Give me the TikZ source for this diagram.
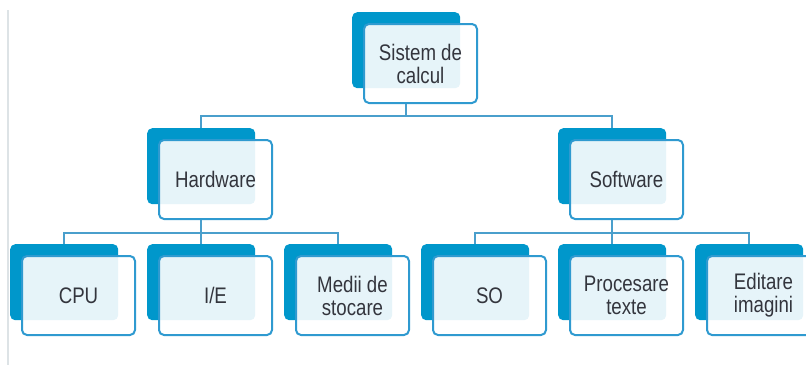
\documentclass[tikz,border=0pt]{standalone}
\usepackage{fontspec}
\usepackage{tikz}
\usetikzlibrary{positioning}
\usepackage{xcolor}

\newfontfamily\boxfont{Liberation Sans}[FakeStretch=0.83]
\definecolor{deepblue}{HTML}{0097CB}
\definecolor{edgeblue}{HTML}{2F9AD0}
\definecolor{linkblue}{HTML}{4A9FCC}
\definecolor{txtgray}{HTML}{33353D}
\definecolor{railgray}{HTML}{DDE3E6}

\begin{document}
\begin{tikzpicture}[x=1pt, y=-1pt,
    back/.style={rectangle, rounded corners=5pt, fill=deepblue, minimum width=108pt, minimum height=76pt, inner sep=0pt, anchor=north west},
    front/.style={rectangle, rounded corners=5pt, draw=edgeblue, line width=2pt, fill=white, fill opacity=0.9, text opacity=1, minimum width=113pt, minimum height=79pt, inner sep=0pt, anchor=north west, align=center, text=txtgray, font=\boxfont\fontsize{22.5}{23}\selectfont},
    link/.style={draw=linkblue, line width=2.4pt}]
    \useasboundingbox (0,0) rectangle (806,367);

    % Left rule
    \draw[railgray, line width=2pt] (8,10) -- (8,365);

    % Root
    \node[back] (root-b) at (352,12) {};
    \node[front] (root) at ([shift={(11,11)}]root-b.north west) {Sistem de\\calcul};

    % Second level
    \node[back] (hw-b) at (147,128) {};
    \node[front] (hw) at ([shift={(11,11)}]hw-b.north west) {Hardware};
    \node[back] (sw-b) at (558,128) {};
    \node[front] (sw) at ([shift={(11,11)}]sw-b.north west) {Software};

    % Third level
    \node[back] (cpu-b) at (10,244) {};
    \node[front] (cpu) at ([shift={(11,11)}]cpu-b.north west) {CPU};
    \node[back] (ie-b) at (147,244) {};
    \node[front] (ie) at ([shift={(11,11)}]ie-b.north west) {I/E};
    \node[back] (med-b) at (284,244) {};
    \node[front] (med) at ([shift={(11,11)}]med-b.north west) {Medii de\\stocare};
    \node[back] (so-b) at (421,244) {};
    \node[front] (so) at ([shift={(11,11)}]so-b.north west) {SO};
    \node[back] (proc-b) at (558,244) {};
    \node[front] (proc) at ([shift={(11,11)}]proc-b.north west) {Procesare\\texte};
    \node[back] (edit-b) at (695,244) {};
    \node[front] (edit) at ([shift={(11,11)}]edit-b.north west) {Editare\\imagini};

    % Connectors
    \draw[link] (root-b.south |- root.south) -- ++(0,12) -| (hw-b.north);
    \draw[link] (root-b.south |- root.south) -- ++(0,12) -| (sw-b.north);

    \draw[link] (hw-b.south |- hw.south) -- ++(0,13) -| (cpu-b.north);
    \draw[link] (hw-b.south |- hw.south) -- ++(0,13) -| (ie-b.north);
    \draw[link] (hw-b.south |- hw.south) -- ++(0,13) -| (med-b.north);

    \draw[link] (sw-b.south |- sw.south) -- ++(0,13) -| (so-b.north);
    \draw[link] (sw-b.south |- sw.south) -- ++(0,13) -| (proc-b.north);
    \draw[link] (sw-b.south |- sw.south) -- ++(0,13) -| (edit-b.north);

\end{tikzpicture}
\end{document}
